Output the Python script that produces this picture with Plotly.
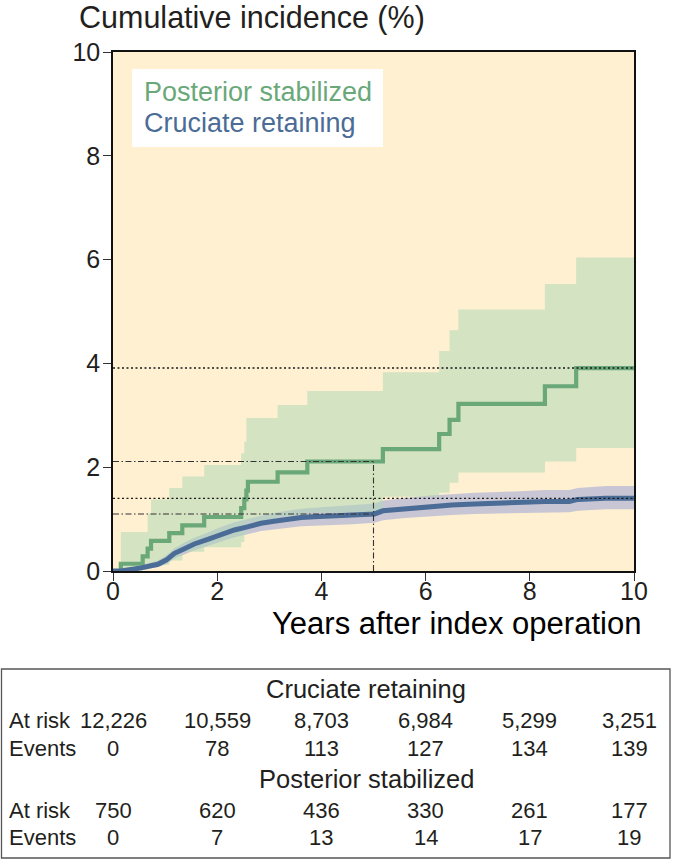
import plotly.graph_objects as go

# ---------------- data ----------------
years_at_risk = [0, 2, 4, 6, 8, 10]
cr_at_risk = ["12,226", "10,559", "8,703", "6,984", "5,299", "3,251"]
cr_events = ["0", "78", "113", "127", "134", "139"]
ps_at_risk = ["750", "620", "436", "330", "261", "177"]
ps_events = ["0", "7", "13", "14", "17", "19"]

# Posterior stabilized (step function)
ps_time = [0, 0.15, 0.57, 0.665, 0.73, 1.08, 1.33, 1.75, 2.46, 2.52, 2.56, 2.59,
           3.16, 3.73, 5.18, 6.26, 6.46, 6.63, 8.29, 8.89, 10]
ps_est = [0, 0.14, 0.28, 0.43, 0.58, 0.73, 0.88, 1.04, 1.21, 1.38, 1.55, 1.72,
          1.90, 2.11, 2.35, 2.64, 2.91, 3.22, 3.56, 3.91, 3.91]
ps_upper = [0, 0.75, 0.75, 1.11, 1.38, 1.60, 1.82, 2.04, 2.27, 2.49, 2.95, 2.95,
            3.20, 3.47, 3.83, 4.24, 4.64, 5.04, 5.53, 6.04, 6.04]
ps_lower = [0, 0.0, 0.02, 0.06, 0.12, 0.20, 0.37, 0.46, 0.56, 0.70, 0.85, 0.95,
            1.05, 1.12, 1.43, 1.51, 1.70, 1.90, 2.11, 2.37, 2.37]

# Cruciate retaining
cr_time = [0, 0.15, 0.54, 0.86, 1.02, 1.18, 1.37, 1.56, 1.82, 2.07, 2.33, 2.58,
           2.84, 3.09, 3.35, 3.61, 3.86, 4.12, 4.6, 5.02, 5.18, 5.6, 6.11, 6.5,
           6.94, 7.4, 7.89, 8.3, 8.76, 8.92, 9.46, 10]
cr_est = [0, 0, 0.06, 0.13, 0.21, 0.34, 0.43, 0.52, 0.61, 0.71, 0.79, 0.85,
          0.92, 0.96, 1.00, 1.03, 1.045, 1.06, 1.08, 1.10, 1.16, 1.20, 1.25, 1.27,
          1.29, 1.31, 1.33, 1.34, 1.34, 1.38, 1.40, 1.40]
cr_lower = [0, 0, 0.02, 0.07, 0.13, 0.24, 0.32, 0.40, 0.48, 0.57, 0.65, 0.71,
            0.77, 0.80, 0.83, 0.86, 0.87, 0.88, 0.90, 0.93, 0.98, 1.02, 1.06, 1.08,
            1.10, 1.11, 1.12, 1.13, 1.13, 1.16, 1.19, 1.19]
cr_upper = [0, 0.02, 0.11, 0.20, 0.30, 0.44, 0.55, 0.64, 0.74, 0.85, 0.94, 1.00,
            1.07, 1.12, 1.16, 1.20, 1.22, 1.24, 1.27, 1.30, 1.36, 1.40, 1.46, 1.48,
            1.51, 1.52, 1.54, 1.56, 1.56, 1.60, 1.64, 1.64]

# ---------------- helpers ----------------
def step_value(t, times, vals):
    v = vals[0]
    for ti, vi in zip(times, vals):
        if ti <= t:
            v = vi
    return v

def lin_value(t, times, vals):
    for i in range(len(times) - 1):
        if times[i] <= t <= times[i + 1]:
            f = (t - times[i]) / (times[i + 1] - times[i]) if times[i + 1] > times[i] else 0
            return vals[i] + f * (vals[i + 1] - vals[i])
    return vals[-1]

ps5 = step_value(5, ps_time, ps_est)
cr5 = lin_value(5, cr_time, cr_est)
ps10 = ps_est[-1]
cr10 = cr_est[-1]

FONT = "Liberation Sans, Arial, Helvetica, sans-serif"
TXT = "#231f20"
GREEN = "#6aa87a"
BLUE = "#4b6c96"
CREAM = "#fef0d0"

# plot area in pixels
L, R, T, B = 113, 634, 52, 571
W, H = 673, 861

def py(p):  # pixel y -> paper y
    return (B - p) / (B - T)

def px(p):  # pixel x -> paper x
    return (p - L) / (R - L)

fig = go.Figure()

# CR band (opaque lavender)
fig.add_trace(go.Scatter(x=cr_time, y=cr_lower, mode="lines", line=dict(width=0, color="#c8c6d4"),
                         hoverinfo="skip", showlegend=False))
fig.add_trace(go.Scatter(x=cr_time, y=cr_upper, mode="lines", line=dict(width=0, color="#c8c6d4"),
                         fill="tonexty", fillcolor="#c8c6d4", hoverinfo="skip", showlegend=False))
# PS band (semi-transparent green)
fig.add_trace(go.Scatter(x=ps_time, y=ps_lower, mode="lines", line=dict(width=0, shape="hv"),
                         hoverinfo="skip", showlegend=False))
fig.add_trace(go.Scatter(x=ps_time, y=ps_upper, mode="lines", line=dict(width=0, shape="hv"),
                         fill="tonexty", fillcolor="rgba(176,216,182,0.55)", hoverinfo="skip",
                         showlegend=False))
# curves
fig.add_trace(go.Scatter(x=ps_time, y=ps_est, mode="lines", name="Posterior stabilized",
                         line=dict(color=GREEN, width=4.2, shape="hv"), showlegend=False))
fig.add_trace(go.Scatter(x=cr_time, y=cr_est, mode="lines", name="Cruciate retaining",
                         line=dict(color=BLUE, width=5), showlegend=False))

# reference lines
DOT = "2px,2.5px"
DASHDOT = "6px,2.5px,1.5px,2.5px"
for yv in (ps10, cr10):
    fig.add_trace(go.Scatter(x=[0, 10], y=[yv, yv], mode="lines",
                             line=dict(color="#1a1a1a", width=1.4, dash=DOT),
                             hoverinfo="skip", showlegend=False))
for yv in (ps5, cr5):
    fig.add_trace(go.Scatter(x=[0, 5], y=[yv, yv], mode="lines",
                             line=dict(color="#333", width=1.1, dash=DASHDOT),
                             hoverinfo="skip", showlegend=False))
fig.add_trace(go.Scatter(x=[5, 5], y=[0, ps5], mode="lines",
                         line=dict(color="#333", width=1.1, dash=DASHDOT),
                         hoverinfo="skip", showlegend=False))

shapes = []
annotations = []

# legend box
shapes.append(dict(type="rect", xref="paper", yref="paper",
                   x0=px(132), x1=px(383), y0=py(147), y1=py(69),
                   fillcolor="white", line=dict(width=0), layer="above"))
annotations.append(dict(text="Posterior stabilized", xref="paper", yref="paper",
                        x=px(142), y=py(92), xanchor="left", yanchor="middle", showarrow=False,
                        font=dict(family=FONT, size=27, color=GREEN)))
annotations.append(dict(text="Cruciate retaining", xref="paper", yref="paper",
                        x=px(142), y=py(123), xanchor="left", yanchor="middle", showarrow=False,
                        font=dict(family=FONT, size=27, color=BLUE)))

# axis titles
annotations.append(dict(text="Cumulative incidence (%)", xref="paper", yref="paper",
                        x=px(77), y=py(17), xanchor="left", yanchor="middle", showarrow=False,
                        font=dict(family=FONT, size=30.5, color=TXT)))
annotations.append(dict(text="Years after index operation", xref="paper", yref="paper",
                        x=px(643), y=py(623), xanchor="right", yanchor="middle", showarrow=False,
                        font=dict(family=FONT, size=31, color="#000")))

# table
shapes.append(dict(type="rect", xref="paper", yref="paper",
                   x0=px(1.5), x1=px(670), y0=py(858), y1=py(669),
                   line=dict(color="#555", width=1.3), fillcolor="rgba(0,0,0,0)"))

TF = 22
rows = [
    ("Cruciate retaining", None, 689),
    ("At risk", cr_at_risk, 720),
    ("Events", cr_events, 748),
    ("Posterior stabilized", None, 779),
    ("At risk", ps_at_risk, 810),
    ("Events", ps_events, 837),
]
for label, vals, ypix in rows:
    if vals is None:
        annotations.append(dict(text=label, xref="paper", yref="paper", x=px(366), y=py(ypix),
                                xanchor="center", yanchor="middle", showarrow=False,
                                font=dict(family=FONT, size=25.5, color=TXT)))
    else:
        annotations.append(dict(text=label, xref="paper", yref="paper", x=px(7), y=py(ypix),
                                xanchor="left", yanchor="middle", showarrow=False,
                                font=dict(family=FONT, size=TF, color=TXT)))
        for i, (yr, v) in enumerate(zip(years_at_risk, vals)):
            annotations.append(dict(text=v, xref="x", yref="paper", x=yr, y=py(ypix),
                                    xanchor="center", yanchor="middle", showarrow=False,
                                    xshift=(-5 if i == len(vals) - 1 else 0),
                                    font=dict(family=FONT, size=TF, color=TXT)))

axis_common = dict(showline=True, linecolor="#111", linewidth=1.5, mirror=True,
                   ticks="outside", ticklen=8, tickwidth=1.2, tickcolor="#333",
                   showgrid=False, zeroline=False,
                   tickfont=dict(family=FONT, size=25, color=TXT))

fig.update_layout(
    width=W, height=H,
    margin=dict(l=L, r=W - R, t=T, b=H - B, pad=0),
    paper_bgcolor="white", plot_bgcolor=CREAM,
    xaxis=dict(range=[0, 10], tickvals=[0, 2, 4, 6, 8, 10], ticklabelstandoff=-11, **axis_common),
    yaxis=dict(range=[0, 10], tickvals=[0, 2, 4, 6, 8, 10], ticklabelstandoff=-2, **axis_common),
    shapes=shapes, annotations=annotations, showlegend=False,
)

fig.write_html("out.html", config={"displayModeBar": False},
               post_script="document.body.style.margin='0';document.body.style.overflow='hidden';")
